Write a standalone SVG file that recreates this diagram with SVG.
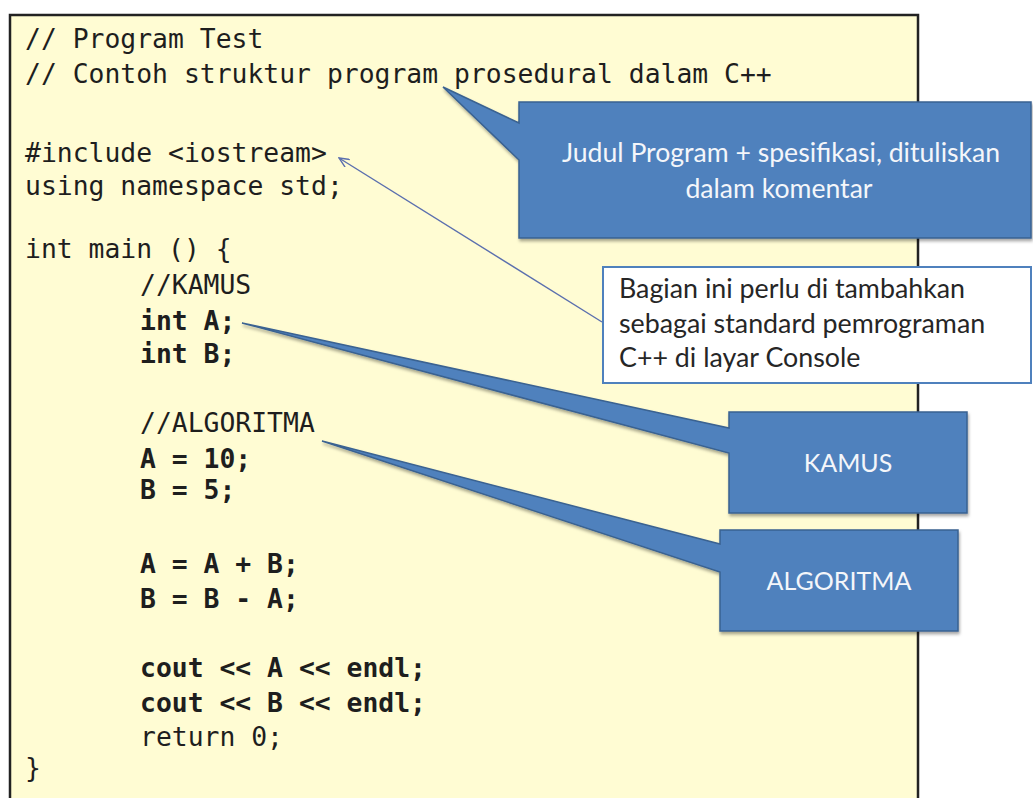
<svg xmlns="http://www.w3.org/2000/svg" width="1033" height="798" viewBox="0 0 1033 798">
  <style>
    .code { font-family: "DejaVu Sans Mono", "Liberation Mono", monospace; font-size: 26.4px; fill: #1e1e1e; }
    .b { font-weight: bold; }
    .callout { fill: #4f81bd; stroke: #3a6291; stroke-width: 1.5; }
    .ctext { font-family: Lato, "Liberation Sans", sans-serif; font-size: 25px; fill: #f4f6fa; text-anchor: middle; }
    .big { font-size: 26.6px; }
    .ntext { font-family: Lato, "Liberation Sans", sans-serif; font-size: 26.8px; fill: #262626; }
  </style>
  <defs>
    <filter id="sh" x="-5%" y="-5%" width="115%" height="125%">
      <feDropShadow dx="1" dy="2.5" stdDeviation="1.5" flood-color="#000" flood-opacity="0.35"/>
    </filter>
    <marker id="arr" markerWidth="12" markerHeight="10" refX="10.5" refY="5" orient="auto" markerUnits="userSpaceOnUse">
      <path d="M0.5,0.5 L10.5,5 L0.5,9.5" fill="none" stroke="#5b6fae" stroke-width="1.4"/>
    </marker>
  </defs>
  <rect width="1033" height="798" fill="#ffffff"/>

  <g id="code-panel">
    <rect x="10" y="15" width="908" height="800" fill="#fffcd3" stroke="#222" stroke-width="2.5"/>
    <text class="code" x="25" y="48">// Program Test</text>
    <text class="code" x="25" y="83">// Contoh struktur program prosedural dalam C++</text>
    <text class="code" x="25" y="162">#include &lt;iostream&gt;</text>
    <text class="code" x="25" y="195">using namespace std;</text>
    <text class="code" x="25" y="258">int main () {</text>
    <text class="code" x="140" y="294">//KAMUS</text>
    <text class="code b" x="140" y="330">int A;</text>
    <text class="code b" x="140" y="363">int B;</text>
    <text class="code" x="140" y="432">//ALGORITMA</text>
    <text class="code b" x="140" y="468">A = 10;</text>
    <text class="code b" x="140" y="499">B = 5;</text>
    <text class="code b" x="140" y="573">A = A + B;</text>
    <text class="code b" x="140" y="608">B = B - A;</text>
    <text class="code b" x="140" y="677">cout &lt;&lt; A &lt;&lt; endl;</text>
    <text class="code b" x="140" y="712">cout &lt;&lt; B &lt;&lt; endl;</text>
    <text class="code" x="140" y="746">return 0;</text>
    <text class="code" x="25" y="777">}</text>
  </g>

  <g id="callout-judul">
    <path class="callout" filter="url(#sh)" d="M519,102 H1031 V238 H519 V160 L443,87 L519,123 Z"/>
    <text class="ctext big" x="781" y="162">Judul Program + spesifikasi, dituliskan</text>
    <text class="ctext big" x="779" y="198">dalam komentar</text>
  </g>

  <g id="note-bagian">
    <rect x="603" y="267" width="428" height="116" fill="#ffffff" stroke="#4f81bd" stroke-width="2"/>
    <text class="ntext" x="619" y="298">Bagian ini perlu di tambahkan</text>
    <text class="ntext" x="619" y="333">sebagai standard pemrograman</text>
    <text class="ntext" x="619" y="367">C++ di layar Console</text>
  </g>

  <g id="callout-kamus">
    <path class="callout" filter="url(#sh)" d="M729,412 H967 V513 H729 V453 L242,323 L729,428 Z"/>
    <text class="ctext" x="848" y="472">KAMUS</text>
  </g>

  <g id="callout-algoritma">
    <path class="callout" filter="url(#sh)" d="M720,530 H958 V631 H720 V572 L322,441 L720,544 Z"/>
    <text class="ctext" x="839" y="590">ALGORITMA</text>
  </g>

  <g id="connectors">
    <line x1="602" y1="322" x2="339" y2="158" stroke="#5b6fae" stroke-width="1.4" marker-end="url(#arr)"/>
  </g>
</svg>
